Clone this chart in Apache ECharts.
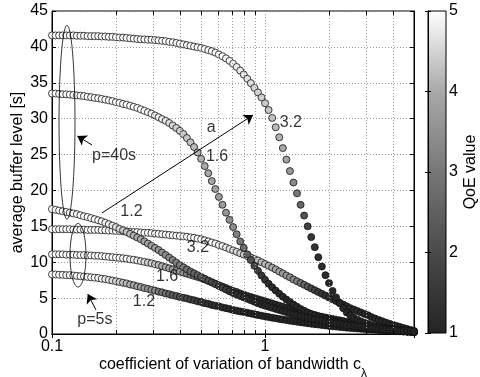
<!DOCTYPE html>
<html>
<head>
<meta charset="utf-8">
<script src="https://cdn.jsdelivr.net/npm/echarts@6/dist/echarts.min.js"></script>
<style>
  html, body { margin: 0; padding: 0; background: #fff; }
  #chart { width: 480px; height: 377px; }
</style>
</head>
<body>
<div id="chart"></div>
<script>
// Coefficient of variation of bandwidth (log-spaced samples, 0.1 ... 5)
const cv = [
  0.1, 0.10391, 0.10798, 0.1122, 0.11659, 0.12115, 0.12589, 0.13082, 0.13594, 0.14125,
  0.14678, 0.15253, 0.15849, 0.1647, 0.17113, 0.17783, 0.18478, 0.19201, 0.19953, 0.20734,
  0.21544, 0.22387, 0.23263, 0.24173, 0.25119, 0.26102, 0.27123, 0.28184, 0.29286, 0.30432,
  0.31623, 0.3286, 0.34145, 0.35481, 0.36869, 0.38312, 0.39811, 0.41368, 0.42987, 0.44668,
  0.46416, 0.48232, 0.50119, 0.5208, 0.54117, 0.56234, 0.58434, 0.6072, 0.63096, 0.65563,
  0.68129, 0.70795, 0.73564, 0.76443, 0.79433, 0.8254, 0.8577, 0.89125, 0.92611, 0.96235,
  1, 1.0391, 1.0798, 1.122, 1.1659, 1.2115, 1.2589, 1.3082, 1.3594, 1.4125,
  1.4678, 1.5253, 1.5849, 1.647, 1.7113, 1.7783, 1.8478, 1.9201, 1.9953, 2.0734,
  2.1544, 2.2387, 2.3263, 2.4173, 2.5119, 2.6102, 2.7123, 2.8184, 2.9286, 3.0432,
  3.1623, 3.286, 3.4145, 3.5481, 3.6869, 3.8312, 3.9811, 4.1368, 4.2987, 4.4668,
  4.6416, 4.8232, 5
];

// Average buffer level [s], playout buffer p = 40 s
const buf40a32 = [
  41.6, 41.6, 41.6, 41.6, 41.6, 41.6, 41.6, 41.55, 41.55, 41.55,
  41.5, 41.5, 41.5, 41.5, 41.45, 41.45, 41.4, 41.4, 41.35, 41.3,
  41.3, 41.25, 41.2, 41.15, 41.1, 41.05, 41.05, 41.0, 41.0, 40.95,
  40.9, 40.85, 40.8, 40.7, 40.65, 40.55, 40.45, 40.35, 40.25, 40.15,
  40.05, 39.95, 39.85, 39.7, 39.55, 39.4, 39.2, 38.95, 38.7, 38.4,
  38.05, 37.65, 37.2, 36.7, 36.15, 35.55, 34.95, 34.3, 33.65, 32.95,
  32.15, 31.2, 30.1, 28.8, 27.4, 25.9, 24.3, 22.7, 21.1, 19.6,
  18.0, 16.5, 15.0, 13.5, 12.1, 10.7, 9.4, 8.2, 7.1, 6.0,
  5.1, 4.3, 3.6, 3.0, 2.6, 2.25, 2.0, 1.75, 1.55, 1.38,
  1.22, 1.08, 0.96, 0.85, 0.75, 0.66, 0.58, 0.5, 0.44, 0.38,
  0.32, 0.27, 0.22
];
const buf40a16 = [
  33.5, 33.5, 33.45, 33.4, 33.4, 33.35, 33.3, 33.25, 33.2, 33.15,
  33.05, 33.0, 32.9, 32.85, 32.75, 32.65, 32.55, 32.45, 32.3, 32.2,
  32.05, 31.95, 31.8, 31.65, 31.5, 31.3, 31.1, 30.9, 30.7, 30.45,
  30.2, 29.95, 29.7, 29.4, 29.05, 28.7, 28.3, 27.85, 27.3, 26.7,
  26.05, 25.3, 24.4, 23.4, 22.4, 21.3, 20.2, 19.1, 18.0, 16.9,
  15.9, 14.9, 13.9, 12.9, 12.0, 11.1, 10.3, 9.5, 8.8, 8.15,
  7.55, 7.0, 6.5, 6.05, 5.6, 5.2, 4.8, 4.45, 4.1, 3.8,
  3.5, 3.25, 3.0, 2.78, 2.58, 2.4, 2.22, 2.06, 1.92, 1.78,
  1.65, 1.53, 1.42, 1.32, 1.22, 1.13, 1.05, 0.97, 0.9, 0.83,
  0.77, 0.71, 0.66, 0.61, 0.56, 0.52, 0.48, 0.44, 0.4, 0.37,
  0.34, 0.31, 0.28
];
const buf40a12 = [
  17.4, 17.3, 17.2, 17.1, 17.0, 16.9, 16.8, 16.7, 16.55, 16.4,
  16.3, 16.15, 16.0, 15.85, 15.7, 15.5, 15.3, 15.1, 14.9, 14.65,
  14.45, 14.2, 13.95, 13.7, 13.45, 13.2, 12.9, 12.6, 12.3, 12.0,
  11.7, 11.35, 11.0, 10.65, 10.3, 9.95, 9.6, 9.3, 9.0, 8.7,
  8.45, 8.2, 7.95, 7.7, 7.45, 7.2, 6.95, 6.7, 6.45, 6.2,
  5.95, 5.7, 5.5, 5.3, 5.1, 4.9, 4.7, 4.5, 4.3, 4.1,
  3.95, 3.8, 3.65, 3.5, 3.35, 3.2, 3.05, 2.9, 2.75, 2.62,
  2.5, 2.38, 2.26, 2.15, 2.04, 1.94, 1.84, 1.74, 1.65, 1.56,
  1.48, 1.4, 1.32, 1.25, 1.18, 1.11, 1.05, 0.99, 0.93, 0.87,
  0.82, 0.77, 0.72, 0.67, 0.63, 0.59, 0.55, 0.51, 0.47, 0.44,
  0.41, 0.38, 0.35
];

// Average buffer level [s], playout buffer p = 5 s
const buf5a32 = [
  14.6, 14.6, 14.6, 14.6, 14.6, 14.6, 14.55, 14.55, 14.55, 14.55,
  14.5, 14.5, 14.5, 14.5, 14.45, 14.45, 14.4, 14.4, 14.35, 14.35,
  14.3, 14.3, 14.25, 14.2, 14.2, 14.15, 14.1, 14.1, 14.05, 14.0,
  13.95, 13.9, 13.85, 13.8, 13.75, 13.7, 13.65, 13.6, 13.55, 13.45,
  13.4, 13.3, 13.2, 13.05, 12.9, 12.75, 12.6, 12.4, 12.25, 12.05,
  11.85, 11.65, 11.45, 11.25, 11.05, 10.85, 10.65, 10.45, 10.25, 10.0,
  9.75, 9.5, 9.25, 9.0, 8.7, 8.45, 8.15, 7.9, 7.6, 7.35,
  7.1, 6.85, 6.6, 6.35, 6.1, 5.85, 5.6, 5.35, 5.1, 4.85,
  4.6, 4.35, 4.1, 3.85, 3.6, 3.4, 3.2, 3.0, 2.8, 2.6,
  2.35, 2.15, 1.95, 1.78, 1.6, 1.44, 1.28, 1.13, 0.98, 0.84,
  0.7, 0.56, 0.43
];
const buf5a16 = [
  11.1, 11.1, 11.1, 11.1, 11.05, 11.05, 11.05, 11.0, 11.0, 11.0,
  10.95, 10.95, 10.9, 10.9, 10.85, 10.8, 10.75, 10.7, 10.65, 10.6,
  10.55, 10.5, 10.4, 10.35, 10.25, 10.15, 10.05, 9.95, 9.85, 9.7,
  9.6, 9.45, 9.3, 9.15, 9.0, 8.85, 8.7, 8.55, 8.4, 8.25,
  8.1, 7.95, 7.8, 7.6, 7.4, 7.2, 7.0, 6.8, 6.6, 6.4,
  6.2, 6.0, 5.85, 5.65, 5.5, 5.3, 5.15, 5.0, 4.85, 4.7,
  4.55, 4.4, 4.25, 4.1, 3.95, 3.8, 3.65, 3.55, 3.4, 3.3,
  3.15, 3.0, 2.9, 2.75, 2.65, 2.5, 2.4, 2.3, 2.2, 2.1,
  2.0, 1.9, 1.8, 1.7, 1.6, 1.5, 1.42, 1.34, 1.26, 1.18,
  1.1, 1.03, 0.96, 0.89, 0.82, 0.76, 0.7, 0.64, 0.58, 0.52,
  0.47, 0.42, 0.37
];
const buf5a12 = [
  8.3, 8.3, 8.25, 8.25, 8.2, 8.2, 8.15, 8.1, 8.05, 8.0,
  7.95, 7.9, 7.85, 7.8, 7.7, 7.65, 7.55, 7.45, 7.35, 7.25,
  7.15, 7.05, 6.9, 6.8, 6.65, 6.55, 6.4, 6.3, 6.15, 6.05,
  5.9, 5.8, 5.65, 5.55, 5.4, 5.3, 5.15, 5.05, 4.95, 4.8,
  4.7, 4.55, 4.45, 4.3, 4.2, 4.05, 3.95, 3.85, 3.7, 3.6,
  3.5, 3.35, 3.25, 3.15, 3.05, 2.95, 2.85, 2.75, 2.65, 2.55,
  2.45, 2.36, 2.27, 2.18, 2.1, 2.02, 1.94, 1.86, 1.78, 1.71,
  1.64, 1.57, 1.5, 1.43, 1.37, 1.31, 1.25, 1.19, 1.13, 1.08,
  1.03, 0.98, 0.93, 0.88, 0.84, 0.8, 0.76, 0.72, 0.68, 0.64,
  0.61, 0.58, 0.55, 0.52, 0.49, 0.46, 0.43, 0.4, 0.37, 0.35,
  0.33, 0.31, 0.29
];

// QoE value of every sample (1 ... 5)
const qoe40a32 = [
  5, 5, 5, 5, 5, 5, 5, 5, 5, 5,
  5, 5, 5, 5, 5, 5, 5, 5, 5, 5,
  5, 5, 5, 5, 5, 5, 5, 5, 5, 5,
  5, 5, 5, 5, 5, 5, 5, 5, 5, 5,
  5, 5, 5, 5, 5, 5, 5, 5, 5, 4.95,
  4.9, 4.85, 4.8, 4.75, 4.7, 4.65, 4.6, 4.55, 4.5, 4.45,
  4.4, 4.35, 4.3, 4.2, 4.1, 4.0, 3.9, 3.7, 3.4, 3.0,
  2.6, 2.2, 1.8, 1.5, 1.35, 1.25, 1.2, 1.15, 1.12, 1.1,
  1.08, 1.07, 1.06, 1.05, 1.05, 1.04, 1.04, 1.03, 1.03, 1.03,
  1.02, 1.02, 1.02, 1.02, 1.01, 1.01, 1.01, 1.01, 1.01, 1,
  1, 1, 1
];
const qoe40a16 = [
  5, 5, 5, 5, 5, 5, 5, 5, 5, 5,
  5, 5, 5, 5, 5, 5, 5, 5, 5, 5,
  5, 5, 5, 5, 5, 5, 5, 4.95, 4.9, 4.85,
  4.8, 4.75, 4.7, 4.6, 4.55, 4.5, 4.45, 4.4, 4.35, 4.3,
  4.2, 4.15, 4.1, 4.0, 3.95, 3.9, 3.8, 3.75, 3.7, 3.6,
  3.5, 3.4, 3.2, 3.0, 2.75, 2.5, 2.2, 1.9, 1.7, 1.5,
  1.35, 1.25, 1.2, 1.15, 1.12, 1.1, 1.09, 1.08, 1.07, 1.06,
  1.05, 1.05, 1.04, 1.04, 1.03, 1.03, 1.03, 1.02, 1.02, 1.02,
  1.02, 1.01, 1.01, 1.01, 1.01, 1.01, 1, 1, 1, 1,
  1, 1, 1, 1, 1, 1, 1, 1, 1, 1,
  1, 1, 1
];
const qoe40a12 = [
  5, 5, 5, 5, 5, 5, 5, 5, 5, 5,
  5, 5, 5, 4.95, 4.9, 4.85, 4.8, 4.7, 4.6, 4.5,
  4.4, 4.3, 4.2, 4.1, 4.0, 3.95, 3.9, 3.8, 3.75, 3.7,
  3.6, 3.5, 3.45, 3.4, 3.3, 3.2, 3.1, 3.0, 2.85, 2.7,
  2.6, 2.5, 2.35, 2.2, 2.1, 2.0, 1.9, 1.8, 1.7, 1.6,
  1.5, 1.45, 1.4, 1.35, 1.3, 1.25, 1.2, 1.15, 1.12, 1.1,
  1.09, 1.08, 1.07, 1.06, 1.05, 1.05, 1.04, 1.04, 1.03, 1.03,
  1.03, 1.02, 1.02, 1.02, 1.02, 1.01, 1.01, 1.01, 1.01, 1.01,
  1, 1, 1, 1, 1, 1, 1, 1, 1, 1,
  1, 1, 1, 1, 1, 1, 1, 1, 1, 1,
  1, 1, 1
];
const qoe5a32 = [
  5, 5, 5, 5, 5, 5, 5, 5, 5, 5,
  5, 5, 5, 5, 5, 5, 5, 5, 5, 5,
  5, 5, 5, 5, 5, 5, 5, 5, 5, 5,
  5, 5, 5, 5, 5, 5, 5, 5, 5, 5,
  5, 5, 5, 5, 5, 4.95, 4.9, 4.85, 4.8, 4.75,
  4.7, 4.6, 4.55, 4.5, 4.45, 4.4, 4.35, 4.3, 4.25, 4.2,
  4.15, 4.1, 4.05, 4.0, 3.9, 3.8, 3.7, 3.55, 3.4, 3.2,
  2.9, 2.6, 2.3, 2.0, 1.8, 1.6, 1.45, 1.35, 1.3, 1.25,
  1.2, 1.17, 1.15, 1.13, 1.11, 1.1, 1.09, 1.08, 1.07, 1.06,
  1.05, 1.05, 1.04, 1.04, 1.03, 1.03, 1.02, 1.02, 1.02, 1.01,
  1.01, 1.01, 1
];
const qoe5a16 = [
  5, 5, 5, 5, 5, 5, 5, 5, 5, 5,
  5, 5, 5, 5, 5, 5, 5, 5, 5, 5,
  5, 4.95, 4.9, 4.85, 4.8, 4.7, 4.6, 4.5, 4.4, 4.3,
  4.2, 4.1, 4.0, 3.9, 3.8, 3.7, 3.6, 3.5, 3.35, 3.2,
  3.05, 2.9, 2.75, 2.6, 2.45, 2.3, 2.15, 2.0, 1.9, 1.8,
  1.7, 1.6, 1.5, 1.45, 1.4, 1.35, 1.3, 1.25, 1.2, 1.17,
  1.15, 1.13, 1.11, 1.1, 1.09, 1.08, 1.07, 1.06, 1.05, 1.05,
  1.04, 1.04, 1.03, 1.03, 1.03, 1.02, 1.02, 1.02, 1.02, 1.01,
  1.01, 1.01, 1.01, 1.01, 1, 1, 1, 1, 1, 1,
  1, 1, 1, 1, 1, 1, 1, 1, 1, 1,
  1, 1, 1
];
const qoe5a12 = [
  5, 5, 5, 5, 5, 5, 5, 5, 5, 5,
  5, 5, 5, 4.9, 4.85, 4.8, 4.7, 4.6, 4.5, 4.4,
  4.3, 4.2, 4.1, 4.0, 3.9, 3.8, 3.7, 3.55, 3.4, 3.25,
  3.1, 2.95, 2.8, 2.6, 2.45, 2.3, 2.15, 2.0, 1.9, 1.8,
  1.7, 1.6, 1.5, 1.45, 1.4, 1.35, 1.3, 1.25, 1.2, 1.17,
  1.15, 1.13, 1.11, 1.1, 1.09, 1.08, 1.07, 1.06, 1.05, 1.05,
  1.04, 1.04, 1.03, 1.03, 1.03, 1.02, 1.02, 1.02, 1.02, 1.01,
  1.01, 1.01, 1.01, 1.01, 1.01, 1, 1, 1, 1, 1,
  1, 1, 1, 1, 1, 1, 1, 1, 1, 1,
  1, 1, 1, 1, 1, 1, 1, 1, 1, 1,
  1, 1, 1
];

// Gray colour scale of the QoE value, from 1 (dark) to 5 (white)
const qoeColors = ['#242424', '#4a4a4a', '#777777', '#a9a9a9', '#ffffff'];
const qoeMin = 1, qoeMax = 5;

// Axis ranges and ticks
const xMin = 0.1, xMax = 5;
const yMin = 0, yMax = 45, yStep = 5;
const xMinorTicks = [0.2, 0.3, 0.4, 0.5, 0.6, 0.7, 0.8, 0.9, 2, 3, 4];

// Curve parameters a = 3.2 / 1.6 / 1.2 for p = 40 s and p = 5 s
const curveLabels = [
  { text: '3.2', x: 1.32, y: 29.4 },
  { text: '1.6', x: 0.595, y: 24.7 },
  { text: '1.2', x: 0.236, y: 17.1 },
  { text: '3.2', x: 0.484, y: 12.0 },
  { text: '1.6', x: 0.347, y: 7.95 },
  { text: '1.2', x: 0.27, y: 4.45 },
  { text: 'a', x: 0.558, y: 28.7 },
  { text: 'p=40s', x: 0.1955, y: 24.8 },
  { text: 'p=5s', x: 0.159, y: 1.95 }
];
// Arrows: [from x, from y, to x, to y]
const arrows = [
  [0.1716, 16.86, 0.878, 30.5],
  [0.1541, 26.33, 0.1315, 27.58],
  [0.1609, 3.34, 0.1472, 5.57]
];
// Ellipses grouping the curve starts: [x left, x right, y bottom, y top]
const groupEllipses = [
  [0.1079, 0.1282, 16.0, 43.0],
  [0.1215, 0.1444, 6.55, 15.4]
];

const FONT = 'Liberation Sans';
const txt = { fontFamily: FONT, fontSize: 16, color: '#000' };
const gridLine = { color: '#9a9a9a', type: [1, 2], width: 1 };
const tickLine = { color: '#000', type: 'solid', width: 1 };

function points(ys, qs) {
  return cv.map((x, i) => [x, ys[i], qs[i]]);
}

const curveSeries = [
  [buf5a32, qoe5a32], [buf5a16, qoe5a16], [buf5a12, qoe5a12],
  [buf40a32, qoe40a32], [buf40a16, qoe40a16], [buf40a12, qoe40a12]
].map(([ys, qs]) => ({
  type: 'scatter',
  xAxisIndex: 0, yAxisIndex: 0,
  data: points(ys, qs),
  symbol: 'circle',
  symbolSize: 7,
  clip: false,
  silent: true,
  itemStyle: { borderColor: '#111', borderWidth: 0.8, opacity: 1 },
  z: 3
}));

// vertical grid lines and short ticks at the minor log positions
const minorMarks = [];
xMinorTicks.forEach(v => {
  minorMarks.push([{ coord: [v, yMin], lineStyle: gridLine }, { coord: [v, yMax] }]);
  minorMarks.push([{ coord: [v, yMin], lineStyle: tickLine }, { coord: [v, yMin + 0.55] }]);
  minorMarks.push([{ coord: [v, yMax - 0.55], lineStyle: tickLine }, { coord: [v, yMax] }]);
});

const chart = echarts.init(document.getElementById('chart'), null, { renderer: 'canvas' });

const option = {
  animation: false,
  backgroundColor: '#fff',
  grid: [
    {
      left: 52, top: 11, width: 362, height: 323, outerBoundsMode: 'none', containLabel: false,
      show: true, borderColor: '#000', borderWidth: 1, backgroundColor: '#fff'
    },
    {
      left: 428, top: 11, width: 18, height: 322, outerBoundsMode: 'none', containLabel: false,
      show: true, borderColor: '#000', borderWidth: 1,
      backgroundColor: {
        type: 'linear', x: 0, y: 0, x2: 0, y2: 1,
        colorStops: qoeColors.slice().reverse().map((c, i, a) => ({ offset: i / (a.length - 1), color: c }))
      }
    }
  ],
  xAxis: [
    {
      type: 'log', logBase: 10, min: xMin, max: xMax, gridIndex: 0, position: 'bottom',
      axisLine: { show: true, lineStyle: { color: '#000' } },
      axisTick: { show: true, inside: true, length: 4, lineStyle: { color: '#000' } },
      axisLabel: {
        ...txt, margin: 5,
        formatter: v => (Math.abs(v - 0.1) < 1e-9 ? '0.1' : (Math.abs(v - 1) < 1e-9 ? '1' : ''))
      },
      splitLine: { show: true, lineStyle: gridLine },
      name: '{m|coefficient of variation of bandwidth c}{s|λ}',
      nameLocation: 'middle', nameGap: 23, nameMoveOverlap: false,
      nameTextStyle: {
        ...txt,
        rich: {
          m: { fontFamily: FONT, fontSize: 16, color: '#000', lineHeight: 16, verticalAlign: 'top' },
          s: { fontFamily: FONT, fontSize: 12, color: '#000', lineHeight: 12, verticalAlign: 'top', padding: [11, 0, 0, 0] }
        }
      }
    },
    {
      type: 'log', logBase: 10, min: xMin, max: xMax, gridIndex: 0, position: 'top',
      axisLine: { show: true, lineStyle: { color: '#000' } },
      axisTick: { show: true, inside: true, length: 4, lineStyle: { color: '#000' } },
      axisLabel: { show: false }, splitLine: { show: false }
    },
    { type: 'value', gridIndex: 1, min: 0, max: 1, show: false }
  ],
  yAxis: [
    {
      type: 'value', min: yMin, max: yMax, interval: yStep, gridIndex: 0, position: 'left',
      axisLine: { show: true, lineStyle: { color: '#000' } },
      axisTick: { show: true, inside: true, length: 4, lineStyle: { color: '#000' } },
      axisLabel: { ...txt, margin: 4 },
      splitLine: { show: true, lineStyle: gridLine },
      name: 'average buffer level [s]', nameLocation: 'middle', nameGap: 26, nameMoveOverlap: false,
      nameTextStyle: txt
    },
    {
      type: 'value', min: yMin, max: yMax, interval: yStep, gridIndex: 0, position: 'right',
      axisLine: { show: true, lineStyle: { color: '#000' } },
      axisTick: { show: true, inside: true, length: 4, lineStyle: { color: '#000' } },
      axisLabel: { show: false }, splitLine: { show: false }
    },
    {
      type: 'value', min: qoeMin, max: qoeMax, interval: 1, gridIndex: 1, position: 'right',
      axisLine: { show: true, lineStyle: { color: '#000' } },
      axisTick: { show: true, inside: true, length: 3, lineStyle: { color: '#000' } },
      axisLabel: { ...txt, margin: 3 },
      splitLine: { show: false },
      name: 'QoE value', nameLocation: 'middle', nameGap: 17, nameRotate: 90, nameMoveOverlap: false,
      nameTextStyle: txt
    },
    {
      type: 'value', min: qoeMin, max: qoeMax, interval: 1, gridIndex: 1, position: 'left',
      axisLine: { show: false },
      axisTick: { show: true, inside: true, length: 3, lineStyle: { color: '#000' } },
      axisLabel: { show: false }, splitLine: { show: false }
    }
  ],
  visualMap: {
    type: 'continuous', show: false, min: qoeMin, max: qoeMax, dimension: 2,
    seriesIndex: [1, 2, 3, 4, 5, 6],
    inRange: { color: qoeColors }
  },
  series: [
    {
      type: 'scatter', xAxisIndex: 0, yAxisIndex: 0,
      data: xMinorTicks.map(v => [v, yMin]), symbolSize: 0, silent: true, z: 1,
      markLine: {
        silent: true, symbol: ['none', 'none'], animation: false,
        label: { show: false },
        lineStyle: gridLine,
        data: minorMarks
      }
    },
    ...curveSeries,
    {
      type: 'custom', xAxisIndex: 0, yAxisIndex: 0, silent: true, z: 5,
      data: groupEllipses,
      encode: { x: [0, 1], y: [2, 3] },
      renderItem: (params, api) => {
        const p1 = api.coord([api.value(0), api.value(3)]);
        const p2 = api.coord([api.value(1), api.value(2)]);
        return {
          type: 'ellipse',
          shape: { cx: (p1[0] + p2[0]) / 2, cy: (p1[1] + p2[1]) / 2, rx: Math.abs(p2[0] - p1[0]) / 2, ry: Math.abs(p2[1] - p1[1]) / 2 },
          style: { fill: 'none', stroke: '#000', lineWidth: 0.8 }
        };
      }
    },
    {
      type: 'scatter', xAxisIndex: 0, yAxisIndex: 0, silent: true, z: 6,
      data: curveLabels.map(l => ({ name: l.text, value: [l.x, l.y] })),
      symbolSize: 1, itemStyle: { color: 'rgba(0,0,0,0)' },
      label: { show: true, position: 'inside', formatter: '{b}', ...txt },
      markLine: {
        silent: true, animation: false,
        symbol: ['none', 'arrow'], symbolSize: 9,
        label: { show: false },
        lineStyle: { color: '#000', width: 1, type: 'solid' },
        data: arrows.map(a => [{ coord: [a[0], a[1]] }, { coord: [a[2], a[3]] }])
      }
    }
  ]
};

chart.setOption(option);
</script>
</body>
</html>
